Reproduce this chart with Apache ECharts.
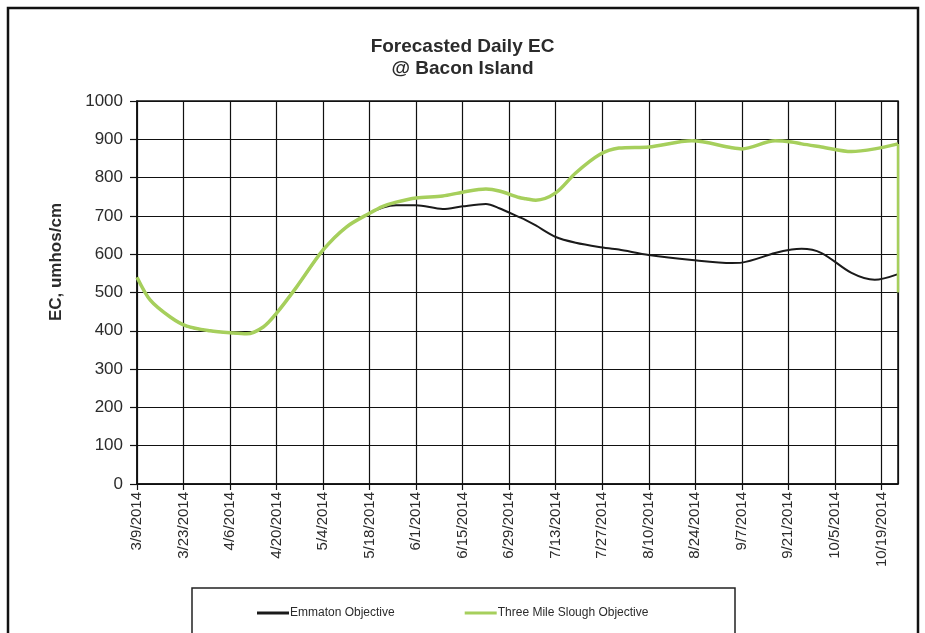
<!DOCTYPE html>
<html>
<head>
<meta charset="utf-8">
<script src="https://cdn.jsdelivr.net/npm/echarts@6/dist/echarts.min.js"></script>
<style>
html,body{margin:0;padding:0;background:#fff;}
#chart{width:925px;height:633px;}
</style>
</head>
<body>
<div id="chart"></div>
<script>
// ---- data ----
const startDate = '3/9/2014';
const endDate = '10/24/2014';
const dates = ['3/9/2014','3/13/2014','3/19/2014','3/24/2014','3/31/2014','4/7/2014','4/11/2014','4/16/2014','4/20/2014','4/26/2014',
  '5/4/2014','5/11/2014','5/18/2014','5/22/2014','5/26/2014','6/1/2014','6/9/2014','6/15/2014','6/22/2014','6/26/2014',
  '7/2/2014','7/4/2014','7/7/2014','7/13/2014','7/19/2014','7/26/2014','8/1/2014','8/10/2014','8/23/2014','9/4/2014',
  '9/7/2014','9/17/2014','9/22/2014','9/25/2014','10/1/2014','10/10/2014','10/17/2014','10/24/2014'];
const emmaton = [540,480,436,412,400,394,392,410,446,514,
  611,671,707,722,728,728,718,725,731,720,
  697,689,675,645,630,619,612,598,585,577,
  578,603,612,614,603,551,533,548];
const threeMile = [540,480,436,412,400,394,392,410,446,514,
  611,671,707,725,736,747,752,762,770,765,
  748,745,741,760,812,859,877,880,896,878,
  875,896,893,888,880,868,875,888];
const threeMileEndDrop = [888, 500];
const yTicks = {min:0, max:1000, step:100};
const xTickDays = 14;

// ---- helpers ----
function parseDate(s){const [m,d,y]=s.split('/').map(Number);return Date.UTC(y,m-1,d);}
const t0 = parseDate(startDate);
function dayOf(s){return Math.round((parseDate(s)-t0)/86400000);}
function fmt(day){const dt=new Date(t0+day*86400000);return (dt.getUTCMonth()+1)+'/'+dt.getUTCDate()+'/'+dt.getUTCFullYear();}
const maxDay = dayOf(endDate);

const emData = dates.map((d,i)=>[dayOf(d),emmaton[i]]);
const tmData = dates.map((d,i)=>[dayOf(d),threeMile[i]]);
const dropData = threeMileEndDrop.map(v=>[maxDay,v]);

const chart = echarts.init(document.getElementById('chart'));
const txt = '#2b2b2b';
chart.setOption({
  animation:false,
  backgroundColor:'#fff',
  title:{
    text:'Forecasted Daily EC\n@ Bacon Island',
    left:'center', top:31,
    textStyle:{fontFamily:'Liberation Sans, Arial', fontWeight:'bold', fontSize:19, lineHeight:22, color:txt}
  },
  grid:{left:137, right:27, top:101, bottom:149, show:true, borderColor:'#111', borderWidth:1.5},
  legend:{
    bottom:9, left:252,
    data:['Emmaton Objective','Three Mile Slough Objective'],
    icon:'rect', itemWidth:32, itemHeight:3, itemGap:70,
    textStyle:{fontFamily:'Liberation Sans, Arial', fontSize:12, color:txt, padding:[0,0,0,-4]}
  },
  xAxis:{
    type:'value', min:0, max:maxDay, interval:xTickDays,
    axisLine:{lineStyle:{color:'#111', width:1.5}},
    axisTick:{show:true, length:6, lineStyle:{color:'#111', width:1.2}},
    splitLine:{show:true, lineStyle:{color:'#111', width:1.2}},
    axisLabel:{
      rotate:90, margin:8, fontFamily:'Liberation Sans, Arial', fontSize:15, color:txt,
      showMaxLabel:false,
      formatter:function(v){return (v % xTickDays===0)?fmt(v):'';}
    }
  },
  yAxis:{
    type:'value', min:yTicks.min, max:yTicks.max, interval:yTicks.step,
    axisLine:{show:true, lineStyle:{color:'#111', width:1.5}},
    axisTick:{show:true, length:7, lineStyle:{color:'#111', width:1.2}},
    splitLine:{show:true, lineStyle:{color:'#111', width:1.2}},
    axisLabel:{margin:14, fontFamily:'Liberation Sans, Arial', fontSize:17, color:txt,
      formatter:function(v){return String(v);}}
  },
  series:[
    {name:'Emmaton Objective', type:'line', data:emData, smooth:0.3, showSymbol:false,
      lineStyle:{color:'#1a1a1a', width:2}, itemStyle:{color:'#1a1a1a'}},
    {name:'Three Mile Slough Objective', type:'line', data:tmData, smooth:0.3, showSymbol:false,
      lineStyle:{color:'#a6cf5c', width:3.5}, itemStyle:{color:'#a6cf5c'}},
    {name:'Three Mile Slough Objective', type:'line', data:dropData, showSymbol:false,
      lineStyle:{color:'#a6cf5c', width:2.5}, itemStyle:{color:'#a6cf5c'}}
  ],
  graphic:[
    {type:'text', left:48, top:203, rotation:Math.PI/2,
      style:{text:'EC, umhos/cm', font:'bold 17px "Liberation Sans", Arial', fill:txt}},
    {type:'rect', shape:{x:192, y:588, width:543, height:60}, style:{fill:'none', stroke:'#222', lineWidth:1.5}},
    {type:'rect', shape:{x:8, y:8, width:910, height:650}, style:{fill:'none', stroke:'#111', lineWidth:2.5}}
  ]
});
</script>
</body>
</html>
